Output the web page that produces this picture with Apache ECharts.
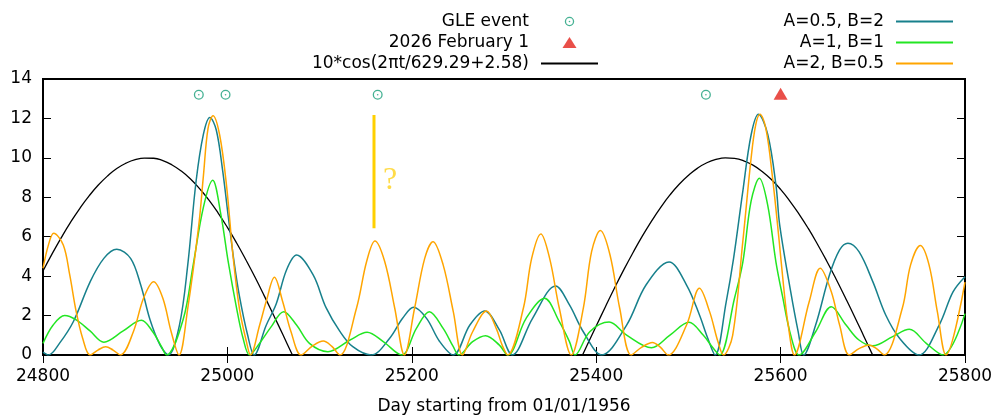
<!DOCTYPE html>
<html>
<head>
<meta charset="utf-8">
<script src="https://cdn.jsdelivr.net/npm/echarts@6.0.0/dist/echarts.min.js"></script>
<style>
  html, body { margin: 0; padding: 0; background: #fff; }
  #chart { width: 998px; height: 416px; }
</style>
</head>
<body>
<div id="chart"></div>
<script>
// Day numbers counted from 01/01/1956, with the modelled amplitudes for each parameter set.
const tealDays = [24800,24806,24818,24833,24851,24866,24880,24895,24906,24916,24927,24936,24948,24957,24966,24974,24981,24988,24995,25001,25007,25013,25022,25029,25042,25053,25064,25075,25093,25107,25122,25136,25156,25176,25190,25202,25216,25230,25245,25263,25279,25295,25309,25331,25356,25371,25386,25406,25433,25454,25479,25498,25512,25521,25529,25541,25549,25559,25568,25576,25586,25595,25599,25611,25619,25625,25638,25653,25664,25673,25685,25700,25714,25729,25750,25772,25787,25800];
const tealVals = [0.15,0,0.6,1.7,3.7,4.9,5.36,4.9,3.55,1.8,0.5,0,1.52,4.57,8.8,11.2,12.05,11.4,9.3,7.0,4.8,3.0,1.0,0,1.5,2.6,4.3,5.07,4.06,2.4,1.2,0.42,0,0.85,1.86,2.42,1.86,0.7,0,1.52,2.23,1.27,0,1.86,3.5,2.54,1.18,0,1.52,3.55,4.72,3.55,2.03,0.85,0,2.7,4.9,8.3,11.16,12.21,11.2,8.6,6.6,3.2,1.2,0,1.52,4.06,5.33,5.67,5.24,3.72,2.03,0.85,0,1.52,3.2,3.97];

const greenDays = [24800,24811,24823.5,24836,24851,24866,24887,24906.7,24919,24928.5,24934,24952,24963,24974,24984,24993,25001,25010,25017,25024,25035,25047,25061,25075,25089,25109,25133,25151.5,25169,25189,25205,25219,25234,25245,25251,25266,25280,25295,25304,25324,25344,25360,25371,25377,25393,25414,25433,25460,25480,25500.6,25516,25527,25534,25550,25559,25568,25577,25586,25595,25602,25611,25620,25638,25655,25671,25685,25700,25721.5,25739.6,25758,25776,25800];
const greenVals = [0.59,1.52,2.0,1.78,1.22,0.65,1.22,1.76,1.18,0.42,0,1.8,4.6,7.5,8.86,7.1,4.7,2.37,0.85,0,0.6,1.4,2.2,1.52,0.59,0.17,0.76,1.15,0.68,0,1.35,2.2,1.35,0.42,0,0.68,0.98,0.5,0,1.86,2.88,1.69,0.68,0,1.18,1.67,1.01,0.37,1.01,1.66,1.01,0.34,0,2.88,4.7,7.8,8.96,7.6,4.7,3.0,1.0,0,1.18,2.45,1.52,0.76,0.47,0.93,1.3,0.59,0,2.1];

const orangeDays = [24800,24806,24811.6,24822,24829,24836,24843,24851,24859.5,24868,24876,24884,24898,24909,24920,24930,24939,24947.5,24957,24969,24974,24979,24984.4,24991.6,24999,25006,25013,25020.6,25025,25035,25042,25051,25060,25069,25080,25092,25104,25113,25122,25140,25151,25160,25170.6,25181.5,25192,25203,25214,25223,25234,25245,25255,25266,25281,25292,25298,25304,25321,25330,25340,25349.5,25360,25373,25386,25395,25404.5,25415,25425.5,25438,25449.5,25461,25469.5,25478,25498,25512,25523,25532,25538,25548,25559,25568,25573,25577.6,25584,25591,25598,25603,25608,25615,25631,25643,25655,25664,25674.5,25685,25696,25704,25712.5,25732,25741,25751.5,25761,25770,25779.4,25800];
const orangeVals = [4.4,5.6,6.17,5.58,4.06,2.2,0.85,0,0.25,0.42,0.25,0,1.18,2.88,3.72,2.88,1.18,0,2.37,6.6,9.1,11.5,12.14,11.16,8.62,5.07,2.37,0.68,0,1.52,2.7,3.94,2.7,1.18,0,0.45,0.71,0.45,0,2.37,4.74,5.78,4.74,2.37,0,2.37,4.9,5.75,4.57,2.2,0,1.18,2.23,1.3,0.5,0,2.37,4.9,6.14,4.9,2.37,0,2.37,5.24,6.31,5.07,2.37,0,0.4,0.64,0.4,0,1.52,3.38,2.2,0.68,0,1.0,5.75,9.98,11.67,12.21,11.5,9.1,6.0,3.6,1.6,0,2.7,4.4,3.21,1.52,0,0.32,0.51,0.32,0,2.37,4.57,5.55,4.57,2.2,0,3.7];

// 10*cos(2*pi*t/629.29+2.58), tabulated every 10 days over its two positive lobes.
const cosDays = [24800,24810,24820,24830,24840,24850,24860,24870,24880,24890,24900,24910,24920,24930,24940,24950,24960,24970,24980,24990,25000,25010,25020,25030,25040,25050,25060,25070,25080,
                 25230,
                 25380,25390,25400,25410,25420,25430,25440,25450,25460,25470,25480,25490,25500,25510,25520,25530,25540,25550,25560,25570,25580,25590,25600,25610,25620,25630,25640,25650,25660,25670,25680,25690,25700,25710];
const cosVals = [4.26,5.14,5.97,6.74,7.44,8.07,8.62,9.08,9.46,9.73,9.91,9.99,9.98,9.86,9.64,9.33,8.93,8.43,7.86,7.20,6.47,5.68,4.83,3.94,3.00,2.03,1.05,0.05,-0.94,
                 null,
                 -0.52,0.48,1.47,2.45,3.41,4.33,5.20,6.03,6.79,7.49,8.12,8.66,9.11,9.48,9.75,9.92,10.00,9.97,9.85,9.63,9.31,8.90,8.40,7.81,7.15,6.42,5.62,4.77,3.87,2.93,1.97,0.98,-0.02,-1.01];

// Ground-level enhancement events and the 2026 February 1 marker.
const gleDays = [24969, 24998, 25163, 25519];
const gleVals = [13.2, 13.2, 13.2, 13.2];
const febDays = [25600];
const febVals = [13.25];

// Open question bar near day 25159.
const qDays = [25159, 25159];
const qVals = [6.43, 12.18];
const qLabelDay = [25176.6];
const qLabelVal = [8.85];

const pairs = (xs, ys) => xs.map((x, i) => [x, ys[i]]);

const FONT = 'DejaVu Sans';
const TXT = { fontFamily: FONT, fontSize: 17, color: '#000' };

// Ring with a centre dot (plot symbol, 20x20 units).
const ringDot = 'path://M0,10A10,10,0,1,1,20,10A10,10,0,1,1,0,10ZM2.6,10A7.4,7.4,0,1,0,17.4,10A7.4,7.4,0,1,0,2.6,10ZM8.4,10A1.6,1.6,0,1,1,11.6,10A1.6,1.6,0,1,1,8.4,10Z';
// Key icons drawn inside a 57x11 box so the marks keep their plotted size.
const ringKey = 'path://M0,0L0,0M57,11L57,11M23.8,5.5A4.7,4.7,0,1,1,33.2,5.5A4.7,4.7,0,1,1,23.8,5.5ZM25.1,5.5A3.4,3.4,0,1,0,31.9,5.5A3.4,3.4,0,1,0,25.1,5.5ZM27.7,5.5A0.8,0.8,0,1,1,29.3,5.5A0.8,0.8,0,1,1,27.7,5.5Z';
const triKey = 'path://M0,0L0,0M57,11L57,11M21.5,11L35.5,11L28.5,0Z';

const NAME_COS = '10*cos(2\u03c0t/629.29+2.58)';
const lineKey = name => ({ name: name, itemStyle: { opacity: 0 } });

// Curve tension for the model amplitude lines.
const CURVE_SMOOTH = 0.35;

const chart = echarts.init(document.getElementById('chart'), null, { renderer: 'canvas' });

const tickStyle = { inside: true, length: 8, lineStyle: { color: '#000', width: 1 } };

const legendBase = {
  orient: 'vertical',
  align: 'right',
  top: 11,
  padding: 0,
  itemGap: 0,
  itemWidth: 57,
  itemHeight: 11,
  selectedMode: false,
  textStyle: Object.assign({}, TXT, { lineHeight: 21, padding: [0, 7, 0, 0] })
};

chart.setOption({
  animation: false,
  backgroundColor: '#fff',
  grid: {
    left: 43, right: 33, top: 79, bottom: 61,
    outerBoundsMode: 'none', containLabel: false,
    show: true, borderColor: '#000', borderWidth: 2, backgroundColor: 'transparent'
  },
  legend: [
    Object.assign({}, legendBase, {
      right: 399,
      data: [
        { name: 'GLE event', icon: ringKey },
        { name: '2026 February 1', icon: triKey },
        lineKey(NAME_COS)
      ]
    }),
    Object.assign({}, legendBase, {
      right: 44,
      data: [lineKey('A=0.5, B=2'), lineKey('A=1, B=1'), lineKey('A=2, B=0.5')]
    })
  ],
  xAxis: [
    {
      type: 'value', position: 'bottom', min: 24800, max: 25800, interval: 200,
      name: 'Day starting from 01/01/1956', nameLocation: 'middle', nameGap: 43,
      nameTextStyle: TXT,
      axisLine: { show: false }, axisTick: tickStyle, splitLine: { show: false },
      axisLabel: Object.assign({ margin: 13, formatter: v => String(v) }, TXT)
    },
    {
      type: 'value', position: 'top', min: 24800, max: 25800, interval: 200,
      axisLine: { show: false }, axisTick: tickStyle, splitLine: { show: false },
      axisLabel: { show: false }
    }
  ],
  yAxis: [
    {
      type: 'value', position: 'left', min: 0, max: 14, interval: 2,
      axisLine: { show: false }, axisTick: tickStyle, splitLine: { show: false },
      axisLabel: Object.assign({ margin: 11, formatter: v => String(v) }, TXT)
    },
    {
      type: 'value', position: 'right', min: 0, max: 14, interval: 2,
      axisLine: { show: false }, axisTick: tickStyle, splitLine: { show: false },
      axisLabel: { show: false }
    }
  ],
  series: [
    {
      name: 'GLE event', type: 'scatter', data: pairs(gleDays, gleVals),
      symbol: ringDot, symbolSize: 10, symbolKeepAspect: true,
      itemStyle: { color: '#169e78' }, z: 5
    },
    {
      name: '2026 February 1', type: 'scatter', data: pairs(febDays, febVals),
      symbol: 'triangle', symbolSize: [14, 12],
      itemStyle: { color: '#e3231b' }, z: 5
    },
    {
      name: NAME_COS, type: 'line', data: pairs(cosDays, cosVals),
      smooth: true, symbol: 'none', connectNulls: false,
      lineStyle: { color: '#000', width: 1.3 }, itemStyle: { color: '#000' }
    },
    {
      name: 'A=0.5, B=2', type: 'line', data: pairs(tealDays, tealVals),
      smooth: CURVE_SMOOTH, symbol: 'none',
      lineStyle: { color: '#17808c', width: 1.5 }, itemStyle: { color: '#17808c' }
    },
    {
      name: 'A=1, B=1', type: 'line', data: pairs(greenDays, greenVals),
      smooth: CURVE_SMOOTH, symbol: 'none',
      lineStyle: { color: '#22e622', width: 1.5 }, itemStyle: { color: '#22e622' }
    },
    {
      name: 'A=2, B=0.5', type: 'line', data: pairs(orangeDays, orangeVals),
      smooth: CURVE_SMOOTH, symbol: 'none',
      lineStyle: { color: '#ffa500', width: 1.5 }, itemStyle: { color: '#ffa500' }
    },
    {
      type: 'line', data: pairs(qDays, qVals), symbol: 'none', silent: true,
      lineStyle: { color: '#ffd000', width: 3 }
    },
    {
      type: 'scatter', data: pairs(qLabelDay, qLabelVal), symbolSize: 1, silent: true,
      itemStyle: { color: 'rgba(0,0,0,0)' },
      label: { show: true, position: 'inside', formatter: '?', fontFamily: 'Liberation Serif', fontSize: 32, color: '#ffd21a' }
    }
  ]
});
</script>
</body>
</html>
